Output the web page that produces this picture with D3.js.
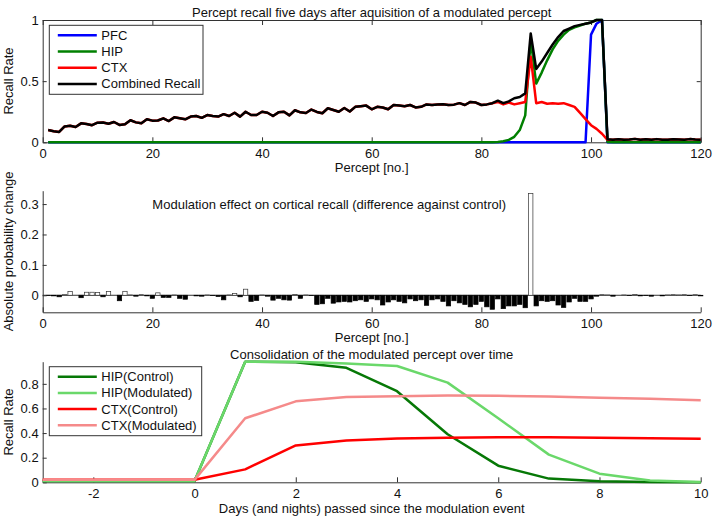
<!DOCTYPE html>
<html>
<head>
<meta charset="utf-8">
<script src="https://cdn.jsdelivr.net/npm/d3@7"></script>
<style>
  body { margin: 0; background: #fff; }
  svg text { font-family: "Liberation Sans", Arial, sans-serif; font-size: 13px; fill: #111; }
  .axis path, .axis line { stroke: #333; }
</style>
</head>
<body>
<div id="chart"></div>
<script>
// ---- data ----
var percepts = d3.range(1, 121);

var pfcRecall = [
  0,0,0,0,0,0,0,0,0,0, 0,0,0,0,0,0,0,0,0,0,
  0,0,0,0,0,0,0,0,0,0, 0,0,0,0,0,0,0,0,0,0,
  0,0,0,0,0,0,0,0,0,0, 0,0,0,0,0,0,0,0,0,0,
  0,0,0,0,0,0,0,0,0,0, 0,0,0,0,0,0,0,0,0,0,
  0,0,0,0,0,0,0,0,0,0, 0,0,0,0,0,0,0,0,0,0.88,
  0.97,1.0,0,0,0,0,0,0,0,0, 0,0,0,0,0,0,0,0,0,0
];

var hipRecall = [
  0,0,0,0,0,0,0,0,0,0, 0,0,0,0,0,0,0,0,0,0,
  0,0,0,0,0,0,0,0,0,0, 0,0,0,0,0,0,0,0,0,0,
  0,0,0,0,0,0,0,0,0,0, 0,0,0,0,0,0,0,0,0,0,
  0,0,0,0,0,0,0,0,0,0, 0,0,0,0,0,0,0,0,0,0,
  0,0,0.003,0.008,0.02,0.045,0.1,0.22,0.84,0.48,
  0.57,0.67,0.76,0.83,0.88,0.92,0.94,0.955,0.97,0.98,
  1.0,1.0,0.003,0,0,0,0,0,0,0, 0,0,0,0,0,0,0,0,0,0
];

var ctxRecall = [
  0.10,0.09,0.085,0.13,0.135,0.125,0.155,0.15,0.14,0.16,
  0.162,0.152,0.166,0.142,0.147,0.18,0.163,0.155,0.188,0.177,
  0.178,0.196,0.174,0.204,0.196,0.188,0.21,0.215,0.2,0.223,
  0.215,0.21,0.23,0.215,0.242,0.21,0.25,0.223,0.223,0.25,
  0.242,0.215,0.245,0.25,0.22,0.262,0.245,0.24,0.268,0.248,
  0.238,0.278,0.264,0.25,0.28,0.252,0.29,0.295,0.3,0.27,
  0.29,0.285,0.27,0.305,0.3,0.295,0.305,0.285,0.29,0.31,
  0.305,0.31,0.312,0.305,0.308,0.32,0.305,0.33,0.325,0.305,
  0.31,0.32,0.33,0.31,0.325,0.31,0.32,0.33,0.70,0.32,
  0.33,0.315,0.32,0.315,0.32,0.305,0.29,0.24,0.19,0.14,
  0.11,0.07,0.02,0.02,0.025,0.02,0.022,0.028,0.02,0.024,
  0.02,0.026,0.021,0.02,0.025,0.022,0.02,0.026,0.022,0.02
];

var combinedRecall = [
  0.10,0.09,0.085,0.13,0.135,0.125,0.155,0.15,0.14,0.16,
  0.162,0.152,0.166,0.142,0.147,0.18,0.163,0.155,0.188,0.177,
  0.178,0.196,0.174,0.204,0.196,0.188,0.21,0.215,0.2,0.223,
  0.215,0.21,0.23,0.215,0.242,0.21,0.25,0.223,0.223,0.25,
  0.242,0.215,0.245,0.25,0.22,0.262,0.245,0.24,0.268,0.248,
  0.238,0.278,0.264,0.25,0.28,0.252,0.29,0.295,0.3,0.27,
  0.29,0.285,0.27,0.305,0.3,0.295,0.305,0.285,0.29,0.31,
  0.305,0.31,0.312,0.305,0.308,0.32,0.305,0.33,0.325,0.305,
  0.31,0.32,0.34,0.32,0.335,0.36,0.37,0.40,0.89,0.60,
  0.66,0.73,0.80,0.86,0.91,0.93,0.95,0.96,0.97,0.98,
  1.0,1.0,0.025,0.02,0.025,0.02,0.022,0.028,0.02,0.024,
  0.02,0.026,0.021,0.02,0.025,0.022,0.02,0.026,0.022,0.02
];

var modulationEffect = [
  -0.001,-0.002,-0.005,0.002,0.012,0.0,-0.008,0.01,0.01,0.009,
  -0.005,0.012,0.0,-0.018,0.013,0.001,-0.003,0.002,-0.002,-0.01,
  0.008,-0.007,-0.007,0.001,-0.01,-0.013,0.0,-0.002,-0.003,0.001,
  -0.001,-0.004,-0.015,0.001,0.006,-0.005,0.02,-0.02,-0.017,0.001,
  -0.003,-0.016,-0.01,-0.015,-0.016,0.003,-0.01,0.001,-0.001,-0.03,
  -0.028,-0.01,-0.026,-0.022,-0.02,-0.022,-0.018,-0.015,-0.02,-0.012,
  -0.015,-0.032,-0.022,-0.015,-0.02,-0.025,-0.012,-0.018,-0.015,-0.033,
  -0.015,-0.012,-0.02,-0.035,-0.018,-0.025,-0.03,-0.038,-0.03,-0.02,
  -0.038,-0.046,-0.012,-0.044,-0.035,-0.035,-0.03,-0.041,0.335,-0.035,
  -0.018,-0.02,-0.018,-0.032,-0.04,-0.022,-0.01,-0.02,-0.02,-0.012,
  -0.003,0.002,0.001,-0.003,0.0,0.001,-0.001,0.003,-0.002,-0.001,
  -0.003,0.0,-0.002,0.001,0.002,0.001,0.002,-0.001,0.002,-0.002
];

var days = [-3,-2,-1,0,1,2,3,4,5,6,7,8,9,10];
var hipControl   = [0.01,0.01,0.01,0.01,0.98,0.975,0.93,0.74,0.39,0.135,0.03,0.008,0.003,0.001];
var hipModulated = [0.01,0.01,0.01,0.01,0.98,0.98,0.965,0.945,0.81,0.52,0.225,0.07,0.015,0.003];
var ctxControl   = [0.02,0.02,0.02,0.02,0.105,0.3,0.34,0.356,0.363,0.366,0.367,0.362,0.358,0.353];
var ctxModulated = [0.02,0.02,0.02,0.02,0.52,0.658,0.694,0.70,0.705,0.703,0.697,0.688,0.678,0.666];

var perceptTicks = [0,20,40,60,80,100,120];
var recallTicks = [0,0.5,1];
var effectTicks = [0,0.1,0.2,0.3];
var dayTicks = [-2,0,2,4,6,8,10];
var consolTicks = [0,0.2,0.4,0.6,0.8];

var topNames = ["PFC","HIP","CTX","Combined Recall"];
var topColors = ["#0000ff","#008000","#ff0000","#000000"];
var bottomNames = ["HIP(Control)","HIP(Modulated)","CTX(Control)","CTX(Modulated)"];
var bottomColors = ["#067806","#6ad86a","#ff0000","#f58a8a"];

// ---- layout ----
var width = 714, height = 523;
var left = 42.7, right = 700.7, mid = (left + right) / 2;

var svg = d3.select("#chart").append("svg")
    .attr("width", width)
    .attr("height", height);

// plain hyphen minus, like the original figure
var plain = function(d) { return String(d); };

function addAxis(axis, tx, ty) {
  return svg.append("g")
      .attr("class", "axis")
      .attr("transform", "translate(" + tx + "," + ty + ")")
      .call(axis);
}

function addLine(values, xs, x, y, color) {
  var line = d3.line()
      .x(function(d, i) { return x(xs[i]); })
      .y(function(d) { return y(d); });
  svg.append("path")
      .datum(values)
      .attr("d", line)
      .attr("fill", "none")
      .attr("stroke", color)
      .attr("stroke-width", 2.5)
      .attr("stroke-linejoin", "round");
}

function addLegend(x0, y0, w, names, colors) {
  var g = svg.append("g").attr("transform", "translate(" + x0 + "," + y0 + ")");
  g.append("rect")
      .attr("width", w).attr("height", 69)
      .attr("fill", "#fff").attr("stroke", "#333");
  names.forEach(function(name, i) {
    var cy = 10 + i * 16.2;
    g.append("line")
        .attr("x1", 8.5).attr("x2", 47.5)
        .attr("y1", cy).attr("y2", cy)
        .attr("stroke", colors[i]).attr("stroke-width", 2.5);
    g.append("text")
        .attr("x", 52).attr("y", cy).attr("dy", "0.35em")
        .text(name);
  });
}

function yLabel(text, cx, cy) {
  svg.append("text")
      .attr("transform", "translate(" + cx + "," + cy + ") rotate(-90)")
      .attr("text-anchor", "middle")
      .text(text);
}

function label(text, x, y, anchor) {
  svg.append("text")
      .attr("x", x).attr("y", y)
      .attr("text-anchor", anchor || "middle")
      .text(text);
}

// ****************** top panel ******************
var xTop = d3.scaleLinear().domain([0, 120]).range([left, right]);
var yTop = d3.scaleLinear().domain([0, 1]).range([142.3, 20]);

addAxis(d3.axisBottom(xTop).tickValues(perceptTicks).tickSizeInner(-5).tickSizeOuter(0).tickPadding(6).tickFormat(plain), 0, 142.3);
addAxis(d3.axisTop(xTop).tickValues(perceptTicks).tickSizeInner(-5).tickSizeOuter(0).tickFormat(""), 0, 20);
addAxis(d3.axisLeft(yTop).tickValues(recallTicks).tickSizeInner(-4).tickSizeOuter(0).tickPadding(4).tickFormat(plain), left, 0);
addAxis(d3.axisRight(yTop).tickValues(recallTicks).tickSizeInner(-4).tickSizeOuter(0).tickFormat(""), right, 0);

[pfcRecall, hipRecall, ctxRecall, combinedRecall].forEach(function(s, i) {
  addLine(s, percepts, xTop, yTop, topColors[i]);
});

addLegend(49.3, 25.3, 153.7, topNames, topColors);
label("Percept recall five days after aquisition of a modulated percept", mid, 16.5);
label("Percept [no.]", mid, 172);
yLabel("Recall Rate", 13, 81);

// ****************** middle panel ******************
var xMid = d3.scaleLinear().domain([0, 120]).range([left, right]);
var yMid = d3.scaleLinear().domain([-0.056, 0.344]).range([312.3, 190.7]);
var bw = (xMid(1) - xMid(0)) * 0.8;

svg.append("line")
    .attr("x1", xMid(0)).attr("x2", xMid(120))
    .attr("y1", yMid(0)).attr("y2", yMid(0))
    .attr("stroke", "#333");

svg.selectAll("rect.effect")
    .data(modulationEffect)
  .enter().append("rect")
    .attr("class", "effect")
    .attr("x", function(d, i) { return xMid(percepts[i]) - bw / 2; })
    .attr("y", function(d) { return yMid(Math.max(d, 0)); })
    .attr("width", bw)
    .attr("height", function(d) { return Math.abs(yMid(d) - yMid(0)); })
    .attr("fill", function(d) { return d > 0 ? "#fff" : "#000"; })
    .attr("stroke", function(d) { return d > 0 ? "#333" : "#000"; })
    .attr("stroke-width", 0.7);

addAxis(d3.axisBottom(xMid).tickValues(perceptTicks).tickSizeInner(-5).tickSizeOuter(0).tickPadding(6).tickFormat(plain), 0, 312.3);
addAxis(d3.axisLeft(yMid).tickValues(effectTicks).tickSizeInner(-4).tickSizeOuter(0).tickPadding(4).tickFormat(plain), left, 0);

svg.append("text")
    .attr("x", xMid(20)).attr("y", yMid(0.3)).attr("dy", "0.35em")
    .text("Modulation effect on cortical recall (difference against control)");
label("Percept [no.]", mid, 342);
yLabel("Absolute probability change", 12.5, 251.5);

// ****************** bottom panel ******************
var xBot = d3.scaleLinear().domain([-3, 10]).range([left, right]);
var yBot = d3.scaleLinear().domain([0, 0.98]).range([482.3, 361.7]);

addAxis(d3.axisBottom(xBot).tickValues(dayTicks).tickSizeInner(-5).tickSizeOuter(0).tickPadding(6).tickFormat(plain), 0, 482.3);
addAxis(d3.axisLeft(yBot).tickValues(consolTicks).tickSizeInner(-4).tickSizeOuter(0).tickPadding(4).tickFormat(plain), left, 0);

[hipControl, hipModulated, ctxControl, ctxModulated].forEach(function(s, i) {
  addLine(s, days, xBot, yBot, bottomColors[i]);
});

addLegend(49.3, 366.7, 152.4, bottomNames, bottomColors);
label("Consolidation of the modulated percept over time", mid, 359);
label("Days (and nights) passed since the modulation event", mid, 513);
yLabel("Recall Rate", 13, 422);
</script>
</body>
</html>
